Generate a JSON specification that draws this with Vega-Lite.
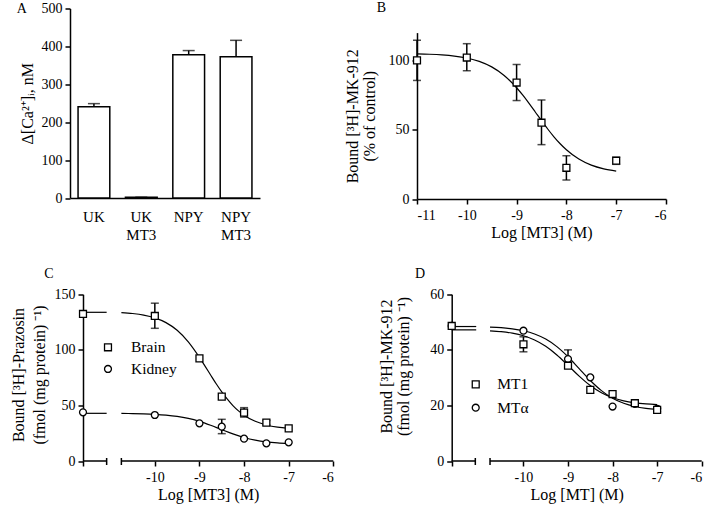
{
  "$schema": "https://vega.github.io/schema/vega-lite/v6.json",
  "autosize": {"type": "none"},
  "width": 632,
  "height": 452.5,
  "padding": {"left": 70, "top": 8.5, "right": 7, "bottom": 46},
  "background": "white",
  "config": {
    "font": "Liberation Serif",
    "view": {"stroke": null},
    "axis": {"domainColor": "black", "domainWidth": 1.5, "tickColor": "black", "tickWidth": 1.5, "tickSize": 5, "labelFont": "Liberation Serif", "labelFontSize": 14, "labelColor": "black", "titleFont": "Liberation Serif", "titleFontSize": 16, "titleFontWeight": "normal", "titleColor": "black", "grid": false, "labelPadding": 3, "titlePadding": 6, "titleLineHeight": 18},
    "text": {"font": "Liberation Serif", "color": "black"},
    "point": {"filled": true, "fill": "white", "stroke": "black", "strokeWidth": 1.3, "size": 48, "opacity": 1},
    "rule": {"color": "black", "strokeWidth": 1.5},
    "tick": {"color": "black", "thickness": 1.5, "orient": "horizontal"},
    "line": {"color": "black", "strokeWidth": 1.2, "interpolate": "monotone"}
  },
  "datasets": {
    "one": [{}],
    "a": [
      {"cond": "UK", "v": 241, "e": 249},
      {"cond": "UK MT3", "v": 2, "e": 2},
      {"cond": "NPY", "v": 378, "e": 389},
      {"cond": "NPY MT3", "v": 373, "e": 416}
    ],
    "bPts": [
      {"x": -11, "y": 100, "lo": 85.5, "hi": 114.5},
      {"x": -10, "y": 102, "lo": 92.5, "hi": 112},
      {"x": -9, "y": 84, "lo": 71, "hi": 97},
      {"x": -8.5, "y": 55, "lo": 39.2, "hi": 71.4},
      {"x": -8, "y": 22.5, "lo": 13.7, "hi": 31.2},
      {"x": -7, "y": 27.6, "lo": 25, "hi": 30}
    ],
    "bCurve": [
      {"x": -11, "y": 104.66}, {"x": -10.75, "y": 104.39}, {"x": -10.5, "y": 103.92}, {"x": -10.25, "y": 103.09},
      {"x": -10, "y": 101.67}, {"x": -9.75, "y": 99.25}, {"x": -9.5, "y": 95.27}, {"x": -9.25, "y": 89.08},
      {"x": -9, "y": 80.23}, {"x": -8.875, "y": 74.83}, {"x": -8.75, "y": 68.94}, {"x": -8.625, "y": 62.75},
      {"x": -8.5, "y": 56.51}, {"x": -8.375, "y": 50.48}, {"x": -8.25, "y": 44.86}, {"x": -8.125, "y": 39.83},
      {"x": -8, "y": 35.47}, {"x": -7.75, "y": 28.77}, {"x": -7.5, "y": 24.4}, {"x": -7.25, "y": 21.72}, {"x": -7, "y": 20.13}
    ],
    "axSeg": [{"x": -11.61, "x2": -11.08}, {"x": -10.75, "x2": -6}],
    "axBrk": [{"x": -11.08}, {"x": -10.75}],
    "cPts": [
      {"s": "Kidney", "x": -11.61, "y": 43.8}, {"s": "Kidney", "x": -10, "y": 41.4}, {"s": "Kidney", "x": -9, "y": 33.9},
      {"s": "Kidney", "x": -8.5, "y": 30.9}, {"s": "Kidney", "x": -8, "y": 20.1}, {"s": "Kidney", "x": -7.5, "y": 15.9}, {"s": "Kidney", "x": -7, "y": 16.8},
      {"s": "Brain", "x": -11.61, "y": 132.3}, {"s": "Brain", "x": -10, "y": 130.5}, {"s": "Brain", "x": -9, "y": 92.4},
      {"s": "Brain", "x": -8.5, "y": 57.9}, {"s": "Brain", "x": -8, "y": 43.5}, {"s": "Brain", "x": -7.5, "y": 34.5}, {"s": "Brain", "x": -7, "y": 29.4}
    ],
    "cErr": [
      {"x": -10, "lo": 119.4, "hi": 142},
      {"x": -8, "lo": 39.5, "hi": 48},
      {"x": -7.5, "lo": 32.5, "hi": 36.5},
      {"x": -8.5, "lo": 24.6, "hi": 37.5}
    ],
    "cCurve": [
      {"k": "Ba", "x": -11.61, "y": 133.8}, {"k": "Ba", "x": -11.08, "y": 133.8},
      {"k": "Bb", "x": -10.75, "y": 133.5}, {"k": "Bb", "x": -10.5, "y": 132.7}, {"k": "Bb", "x": -10.25, "y": 131.3}, {"k": "Bb", "x": -10, "y": 128.8},
      {"k": "Bb", "x": -9.75, "y": 124.5}, {"k": "Bb", "x": -9.5, "y": 117.6}, {"k": "Bb", "x": -9.25, "y": 107.2}, {"k": "Bb", "x": -9, "y": 93.2},
      {"k": "Bb", "x": -8.875, "y": 85.4}, {"k": "Bb", "x": -8.75, "y": 77.4}, {"k": "Bb", "x": -8.625, "y": 69.5}, {"k": "Bb", "x": -8.5, "y": 62.2},
      {"k": "Bb", "x": -8.375, "y": 55.6}, {"k": "Bb", "x": -8.25, "y": 49.9}, {"k": "Bb", "x": -8.125, "y": 45.1}, {"k": "Bb", "x": -8, "y": 41.2},
      {"k": "Bb", "x": -7.75, "y": 35.7}, {"k": "Bb", "x": -7.5, "y": 32.4}, {"k": "Bb", "x": -7.25, "y": 30.4}, {"k": "Bb", "x": -7, "y": 29.4},
      {"k": "Ka", "x": -11.61, "y": 42.9}, {"k": "Ka", "x": -11.08, "y": 42.9},
      {"k": "Kb", "x": -10.75, "y": 42.82}, {"k": "Kb", "x": -10.5, "y": 42.69}, {"k": "Kb", "x": -10.25, "y": 42.45}, {"k": "Kb", "x": -10, "y": 42.04},
      {"k": "Kb", "x": -9.75, "y": 41.34}, {"k": "Kb", "x": -9.5, "y": 40.18}, {"k": "Kb", "x": -9.25, "y": 38.34}, {"k": "Kb", "x": -9, "y": 35.67},
      {"k": "Kb", "x": -8.75, "y": 32.17}, {"k": "Kb", "x": -8.5, "y": 28.2}, {"k": "Kb", "x": -8.25, "y": 24.35}, {"k": "Kb", "x": -8, "y": 21.16},
      {"k": "Kb", "x": -7.75, "y": 18.83}, {"k": "Kb", "x": -7.5, "y": 17.29}, {"k": "Kb", "x": -7.25, "y": 16.34}, {"k": "Kb", "x": -7, "y": 15.77}
    ],
    "dPts": [
      {"s": "MTα", "x": -11.61, "y": 48.6}, {"s": "MTα", "x": -10, "y": 46.9}, {"s": "MTα", "x": -9, "y": 36.7},
      {"s": "MTα", "x": -8.5, "y": 30.1}, {"s": "MTα", "x": -8, "y": 19.6}, {"s": "MTα", "x": -7.5, "y": 20.6}, {"s": "MTα", "x": -7, "y": 18.8},
      {"s": "MT1", "x": -11.61, "y": 48.6}, {"s": "MT1", "x": -10, "y": 42.0}, {"s": "MT1", "x": -9, "y": 34.3},
      {"s": "MT1", "x": -8.5, "y": 25.6}, {"s": "MT1", "x": -8, "y": 24.1}, {"s": "MT1", "x": -7.5, "y": 20.8}, {"s": "MT1", "x": -7, "y": 18.4}
    ],
    "dErr": [
      {"x": -10, "lo": 39.3, "hi": 44.7},
      {"x": -9, "lo": 33.4, "hi": 40},
      {"x": -7.5, "lo": 20.2, "hi": 21.4},
      {"x": -7, "lo": 17.8, "hi": 19.2}
    ],
    "dCurve": [
      {"k": "1a", "x": -11.61, "y": 47.2}, {"k": "1a", "x": -11.06, "y": 47.2},
      {"k": "1b", "x": -10.75, "y": 46.87}, {"k": "1b", "x": -10.5, "y": 46.55}, {"k": "1b", "x": -10.25, "y": 46.0}, {"k": "1b", "x": -10, "y": 45.07},
      {"k": "1b", "x": -9.75, "y": 43.56}, {"k": "1b", "x": -9.5, "y": 41.3}, {"k": "1b", "x": -9.25, "y": 38.18}, {"k": "1b", "x": -9, "y": 34.43},
      {"k": "1b", "x": -8.75, "y": 30.56}, {"k": "1b", "x": -8.5, "y": 27.15}, {"k": "1b", "x": -8.25, "y": 24.54}, {"k": "1b", "x": -8, "y": 22.75},
      {"k": "1b", "x": -7.75, "y": 21.62}, {"k": "1b", "x": -7.5, "y": 20.94}, {"k": "1b", "x": -7.25, "y": 20.53}, {"k": "1b", "x": -7, "y": 20.3},
      {"k": "αa", "x": -11.61, "y": 48.4}, {"k": "αa", "x": -11.06, "y": 48.4},
      {"k": "αb", "x": -10.75, "y": 48.2}, {"k": "αb", "x": -10.5, "y": 47.97}, {"k": "αb", "x": -10.25, "y": 47.57}, {"k": "αb", "x": -10, "y": 46.88},
      {"k": "αb", "x": -9.75, "y": 45.73}, {"k": "αb", "x": -9.5, "y": 43.9}, {"k": "αb", "x": -9.25, "y": 41.17}, {"k": "αb", "x": -9, "y": 37.52},
      {"k": "αb", "x": -8.75, "y": 33.25}, {"k": "αb", "x": -8.5, "y": 28.98}, {"k": "αb", "x": -8.25, "y": 25.33}, {"k": "αb", "x": -8, "y": 22.6},
      {"k": "αb", "x": -7.75, "y": 20.77}, {"k": "αb", "x": -7.5, "y": 19.62}, {"k": "αb", "x": -7.25, "y": 18.93}, {"k": "αb", "x": -7, "y": 18.53}
    ]
  },
  "resolve": {
    "scale": {"x": "independent", "y": "independent", "shape": "independent"},
    "axis": {"x": "independent", "y": "independent"}
  },
  "layer": [
    {
      "data": {"name": "a"},
      "encoding": {
        "x": {"field": "cond", "type": "nominal", "sort": null, "scale": {"range": [0, 190], "paddingInner": 0.33, "paddingOuter": 0.17},
              "axis": {"orient": "bottom", "offset": -263, "title": null, "ticks": false, "labelAngle": 0, "labelFontSize": 15, "labelPadding": 11, "labelLineHeight": 18, "labelExpr": "split(datum.label, ' ')"}},
        "y": {"field": "v", "type": "quantitative", "scale": {"domain": [0, 500], "nice": false, "range": [189.5, 0]},
              "axis": {"orient": "left", "offset": 0, "values": [0, 100, 200, 300, 400, 500], "title": "Δ[Ca²⁺]ᵢ, nM"}}
      },
      "layer": [
        {"mark": {"type": "rule"}, "encoding": {"y2": {"field": "e"}}},
        {"mark": {"type": "tick", "size": 12}, "encoding": {"y": {"field": "e", "type": "quantitative"}}},
        {"mark": {"type": "bar", "fill": "white", "stroke": "black", "strokeWidth": 1.5}}
      ]
    },
    {
      "layer": [
        {"data": {"name": "bCurve"}, "mark": {"type": "line"},
         "encoding": {
           "x": {"field": "x", "type": "quantitative", "scale": {"domain": [-11, -6], "nice": false, "range": [347, 596]},
                 "axis": {"orient": "bottom", "offset": -262, "values": [-11, -10, -9, -8, -7, -6], "labelExpr": "'' + datum.value", "title": "Log [MT3] (M)", "titlePadding": 2, "labelPadding": 4}},
           "y": {"field": "y", "type": "quantitative", "scale": {"domain": [0, 120], "nice": false, "range": [190.5, 24.1]},
                 "axis": {"orient": "left", "offset": -347, "values": [0, 50, 100], "title": ["Bound [³H]-MK-912", "(% of control)"], "titlePadding": 11, "titleLineHeight": 17}}
         }},
        {"data": {"name": "bPts"}, "mark": {"type": "rule"},
         "encoding": {"x": {"field": "x", "type": "quantitative"}, "y": {"field": "lo", "type": "quantitative"}, "y2": {"field": "hi"}}},
        {"data": {"name": "bPts"}, "mark": {"type": "tick", "size": 8},
         "encoding": {"x": {"field": "x", "type": "quantitative"}, "y": {"field": "lo", "type": "quantitative"}}},
        {"data": {"name": "bPts"}, "mark": {"type": "tick", "size": 8},
         "encoding": {"x": {"field": "x", "type": "quantitative"}, "y": {"field": "hi", "type": "quantitative"}}},
        {"data": {"name": "bPts"}, "mark": {"type": "point", "shape": "square"},
         "encoding": {"x": {"field": "x", "type": "quantitative"}, "y": {"field": "y", "type": "quantitative"}}},
        {"data": {"name": "one"}, "mark": {"type": "text", "align": "left", "baseline": "alphabetic", "fontSize": 14},
         "encoding": {"x": {"datum": -11.81, "type": "quantitative", "scale": {"domain": [-11, -6], "nice": false, "range": [347, 596]}},
                      "y": {"datum": 134.6, "type": "quantitative", "scale": {"domain": [0, 120], "nice": false, "range": [190.5, 24.1]}},
                      "text": {"value": "B"}}}
      ]
    },
    {
      "layer": [
        {"data": {"name": "axSeg"}, "mark": {"type": "rule"},
         "encoding": {"x": {"field": "x", "type": "quantitative", "scale": {"domain": [-11.61, -6], "nice": false, "range": [13, 263.3]}}, "x2": {"field": "x2"},
                      "y": {"datum": 0, "type": "quantitative", "scale": {"domain": [0, 150], "nice": false, "range": [452.5, 285.8]}}}},
        {"data": {"name": "axBrk"}, "mark": {"type": "rule"},
         "encoding": {"x": {"field": "x", "type": "quantitative", "scale": {"domain": [-11.61, -6], "nice": false, "range": [13, 263.3]}},
                      "y": {"datum": -3.6, "type": "quantitative", "scale": {"domain": [0, 150], "nice": false, "range": [452.5, 285.8]}}, "y2": {"datum": 2.7}}},
        {"data": {"name": "cCurve"}, "mark": {"type": "line"},
         "encoding": {
           "x": {"field": "x", "type": "quantitative", "scale": {"domain": [-11.61, -6], "nice": false, "range": [13, 263.3]},
                 "axis": {"orient": "bottom", "offset": 0, "domain": false, "values": [-11.61, -10, -9, -8, -7, -6], "labelExpr": "datum.value < -11 ? '' : '' + datum.value", "title": "Log [MT3] (M)", "titlePadding": 2, "labelPadding": 4}},
           "y": {"field": "y", "type": "quantitative", "scale": {"domain": [0, 150], "nice": false, "range": [452.5, 285.8]},
                 "axis": {"orient": "left", "offset": -13, "values": [0, 50, 100, 150], "title": ["Bound [³H]-Prazosin", "(fmol (mg protein) ⁻¹)"], "titleY": 366, "titlePadding": 7, "titleLineHeight": 21}},
           "detail": {"field": "k"}
         }},
        {"data": {"name": "cErr"}, "mark": {"type": "rule"},
         "encoding": {"x": {"field": "x", "type": "quantitative"}, "y": {"field": "lo", "type": "quantitative"}, "y2": {"field": "hi"}}},
        {"data": {"name": "cErr"}, "mark": {"type": "tick", "size": 8},
         "encoding": {"x": {"field": "x", "type": "quantitative"}, "y": {"field": "lo", "type": "quantitative"}}},
        {"data": {"name": "cErr"}, "mark": {"type": "tick", "size": 8},
         "encoding": {"x": {"field": "x", "type": "quantitative"}, "y": {"field": "hi", "type": "quantitative"}}},
        {"data": {"name": "cPts"}, "mark": {"type": "point"},
         "encoding": {"x": {"field": "x", "type": "quantitative"}, "y": {"field": "y", "type": "quantitative"},
                      "shape": {"field": "s", "type": "nominal", "scale": {"domain": ["Brain", "Kidney"], "range": ["square", "circle"]}, "legend": null}}},
        {"data": {"name": "one"}, "mark": {"type": "point", "shape": "square"},
         "encoding": {"x": {"datum": -11.05, "type": "quantitative", "scale": {"domain": [-11.61, -6], "nice": false, "range": [13, 263.3]}},
                      "y": {"datum": 102.3, "type": "quantitative", "scale": {"domain": [0, 150], "nice": false, "range": [452.5, 285.8]}}}},
        {"data": {"name": "one"}, "mark": {"type": "point", "shape": "circle"},
         "encoding": {"x": {"datum": -11.05, "type": "quantitative", "scale": {"domain": [-11.61, -6], "nice": false, "range": [13, 263.3]}},
                      "y": {"datum": 82.8, "type": "quantitative", "scale": {"domain": [0, 150], "nice": false, "range": [452.5, 285.8]}}}},
        {"data": {"name": "one"}, "mark": {"type": "text", "align": "left", "baseline": "middle", "fontSize": 15.5},
         "encoding": {"x": {"datum": -10.534, "type": "quantitative", "scale": {"domain": [-11.61, -6], "nice": false, "range": [13, 263.3]}},
                      "y": {"datum": 102.3, "type": "quantitative", "scale": {"domain": [0, 150], "nice": false, "range": [452.5, 285.8]}},
                      "text": {"value": "Brain"}}},
        {"data": {"name": "one"}, "mark": {"type": "text", "align": "left", "baseline": "middle", "fontSize": 15.5},
         "encoding": {"x": {"datum": -10.534, "type": "quantitative", "scale": {"domain": [-11.61, -6], "nice": false, "range": [13, 263.3]}},
                      "y": {"datum": 82.8, "type": "quantitative", "scale": {"domain": [0, 150], "nice": false, "range": [452.5, 285.8]}},
                      "text": {"value": "Kidney"}}},
        {"data": {"name": "one"}, "mark": {"type": "text", "align": "left", "baseline": "alphabetic", "fontSize": 14},
         "encoding": {"x": {"datum": -13.096, "type": "quantitative", "scale": {"domain": [-11.61, -6], "nice": false, "range": [13, 263.3]}},
                      "y": {"datum": 403, "type": "quantitative", "scale": {"domain": [0, 150], "nice": false, "range": [452.5, 285.8]}},
                      "text": {"value": "A"}}},
        {"data": {"name": "one"}, "mark": {"type": "text", "align": "left", "baseline": "alphabetic", "fontSize": 14},
         "encoding": {"x": {"datum": -12.478, "type": "quantitative", "scale": {"domain": [-11.61, -6], "nice": false, "range": [13, 263.3]}},
                      "y": {"datum": 164.4, "type": "quantitative", "scale": {"domain": [0, 150], "nice": false, "range": [452.5, 285.8]}},
                      "text": {"value": "C"}}}
      ]
    },
    {
      "layer": [
        {"data": {"name": "axSeg"}, "mark": {"type": "rule"},
         "encoding": {"x": {"field": "x", "type": "quantitative", "scale": {"domain": [-11.61, -6], "nice": false, "range": [381.7, 631.7]}}, "x2": {"field": "x2"},
                      "y": {"datum": 0, "type": "quantitative", "scale": {"domain": [0, 60], "nice": false, "range": [452.5, 285.8]}}}},
        {"data": {"name": "axBrk"}, "mark": {"type": "rule"},
         "encoding": {"x": {"field": "x", "type": "quantitative", "scale": {"domain": [-11.61, -6], "nice": false, "range": [381.7, 631.7]}},
                      "y": {"datum": -1.44, "type": "quantitative", "scale": {"domain": [0, 60], "nice": false, "range": [452.5, 285.8]}}, "y2": {"datum": 1.08}}},
        {"data": {"name": "dCurve"}, "mark": {"type": "line"},
         "encoding": {
           "x": {"field": "x", "type": "quantitative", "scale": {"domain": [-11.61, -6], "nice": false, "range": [381.7, 631.7]},
                 "axis": {"orient": "bottom", "offset": 0, "domain": false, "values": [-11.61, -10, -9, -8, -7, -6], "labelExpr": "datum.value < -11 ? '' : '' + datum.value", "title": "Log [MT] (M)", "titlePadding": 2, "labelPadding": 4}},
           "y": {"field": "y", "type": "quantitative", "scale": {"domain": [0, 60], "nice": false, "range": [452.5, 285.8]},
                 "axis": {"orient": "left", "offset": -381.7, "values": [0, 20, 40, 60], "title": ["Bound [³H]-MK-912", "(fmol (mg protein) ⁻¹)"], "titleY": 357.5, "titlePadding": 18, "titleLineHeight": 17}},
           "detail": {"field": "k"}
         }},
        {"data": {"name": "dErr"}, "mark": {"type": "rule"},
         "encoding": {"x": {"field": "x", "type": "quantitative"}, "y": {"field": "lo", "type": "quantitative"}, "y2": {"field": "hi"}}},
        {"data": {"name": "dErr"}, "mark": {"type": "tick", "size": 8},
         "encoding": {"x": {"field": "x", "type": "quantitative"}, "y": {"field": "lo", "type": "quantitative"}}},
        {"data": {"name": "dErr"}, "mark": {"type": "tick", "size": 8},
         "encoding": {"x": {"field": "x", "type": "quantitative"}, "y": {"field": "hi", "type": "quantitative"}}},
        {"data": {"name": "dPts"}, "mark": {"type": "point"},
         "encoding": {"x": {"field": "x", "type": "quantitative"}, "y": {"field": "y", "type": "quantitative"},
                      "shape": {"field": "s", "type": "nominal", "scale": {"domain": ["MT1", "MTα"], "range": ["square", "circle"]}, "legend": null}}},
        {"data": {"name": "one"}, "mark": {"type": "point", "shape": "square"},
         "encoding": {"x": {"datum": -11.071, "type": "quantitative", "scale": {"domain": [-11.61, -6], "nice": false, "range": [381.7, 631.7]}},
                      "y": {"datum": 27.6, "type": "quantitative", "scale": {"domain": [0, 60], "nice": false, "range": [452.5, 285.8]}}}},
        {"data": {"name": "one"}, "mark": {"type": "point", "shape": "circle"},
         "encoding": {"x": {"datum": -11.071, "type": "quantitative", "scale": {"domain": [-11.61, -6], "nice": false, "range": [381.7, 631.7]}},
                      "y": {"datum": 19.18, "type": "quantitative", "scale": {"domain": [0, 60], "nice": false, "range": [452.5, 285.8]}}}},
        {"data": {"name": "one"}, "mark": {"type": "text", "align": "left", "baseline": "middle", "fontSize": 15.5},
         "encoding": {"x": {"datum": -10.587, "type": "quantitative", "scale": {"domain": [-11.61, -6], "nice": false, "range": [381.7, 631.7]}},
                      "y": {"datum": 27.6, "type": "quantitative", "scale": {"domain": [0, 60], "nice": false, "range": [452.5, 285.8]}},
                      "text": {"value": "MT1"}}},
        {"data": {"name": "one"}, "mark": {"type": "text", "align": "left", "baseline": "middle", "fontSize": 15.5},
         "encoding": {"x": {"datum": -10.587, "type": "quantitative", "scale": {"domain": [-11.61, -6], "nice": false, "range": [381.7, 631.7]}},
                      "y": {"datum": 19.18, "type": "quantitative", "scale": {"domain": [0, 60], "nice": false, "range": [452.5, 285.8]}},
                      "text": {"value": "MTα"}}},
        {"data": {"name": "one"}, "mark": {"type": "text", "align": "left", "baseline": "alphabetic", "fontSize": 14},
         "encoding": {"x": {"datum": -12.433, "type": "quantitative", "scale": {"domain": [-11.61, -6], "nice": false, "range": [381.7, 631.7]}},
                      "y": {"datum": 65.8, "type": "quantitative", "scale": {"domain": [0, 60], "nice": false, "range": [452.5, 285.8]}},
                      "text": {"value": "D"}}}
      ]
    }
  ]
}
